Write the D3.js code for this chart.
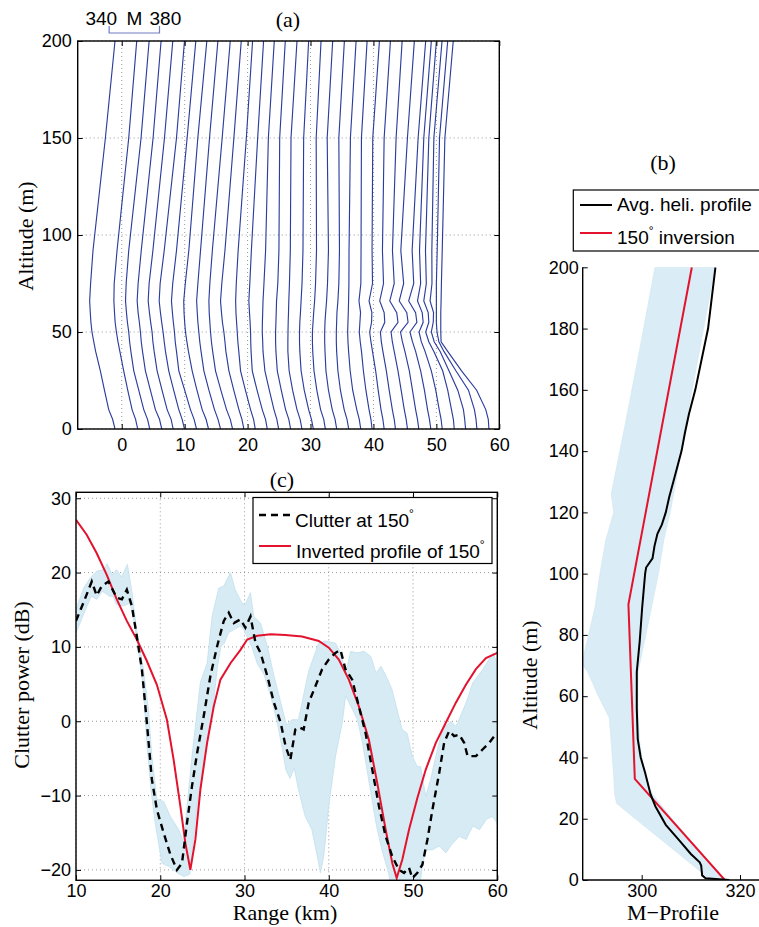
<!DOCTYPE html>
<html>
<head>
<meta charset="utf-8">
<script src="https://cdn.jsdelivr.net/npm/d3@7"></script>
<style>
  body { margin: 0; background: #fff; }
  svg { display: block; }
  .tick text { font-family: "Liberation Sans", Arial, sans-serif; font-size: 18px; fill: #000; }
  .tick line { stroke: #000; }
  .domain { display: none; }
  .lab { font-family: "Liberation Serif", "Times New Roman", serif; font-size: 22px; fill: #000; }
  .leg { font-family: "Liberation Sans", Arial, sans-serif; font-size: 19px; fill: #000; }
</style>
</head>
<body>
<div id="chart"></div>
<script>
// ---------- panel (a): M-profiles shifted by range ----------
var profileAlt = [0, 5, 10, 20, 30, 40, 45, 50, 55, 60, 66, 75, 92, 150, 200];
var profileX = [
  [-1.07, -1.45, -2.07, -2.75, -3.40, -4.15, -4.45, -4.73, -4.90, -5.00, -5.10, -4.95, -4.57, -2.60, -1.07],
  [2.54, 2.2, 1.64, 0.95, 0.31, -0.3, -0.6, -0.85, -1.05, -1.15, -1.25, -1.2, -0.75, 1.11, 2.38],
  [4.45, 4.1, 3.50, 2.7, 1.91, 1.45, 1.25, 1.11, 0.9, 0.75, 0.6, 0.7, 1.11, 3.07, 4.35],
  [6.36, 6.0, 5.35, 4.55, 3.76, 3.3, 3.1, 2.97, 2.8, 2.6, 2.45, 2.6, 3.1, 4.98, 6.25],
  [8.17, 7.85, 7.21, 6.4, 5.62, 5.15, 4.95, 4.82, 4.6, 4.4, 4.2, 4.35, 4.95, 6.79, 8.11],
  [9.97, 9.6, 9.07, 8.25, 7.47, 6.95, 6.75, 6.57, 6.35, 6.15, 5.95, 6.1, 6.75, 8.70, 9.97],
  [11.88, 11.5, 10.92, 10.0, 9.07, 8.7, 8.5, 8.38, 8.2, 8.05, 7.9, 8.1, 8.7, 10.39, 11.77],
  [13.79, 13.4, 12.78, 11.95, 11.19, 10.6, 10.35, 10.13, 10.0, 9.9, 9.85, 10.1, 10.66, 12.09, 13.52],
  [15.70, 15.3, 14.74, 13.85, 13.05, 12.6, 12.4, 12.25, 12.1, 12.0, 11.9, 12.1, 12.52, 13.95, 15.28],
  [17.61, 17.25, 16.65, 15.75, 14.90, 14.45, 14.25, 14.11, 14.0, 13.9, 13.85, 14.0, 14.4, 15.96, 17.24],
  [19.41, 19.1, 18.62, 17.8, 17.03, 16.55, 16.4, 16.23, 16.0, 15.85, 15.7, 15.9, 16.4, 17.82, 18.99],
  [21.22, 20.95, 20.47, 19.65, 18.88, 18.6, 18.45, 18.35, 18.25, 18.15, 18.1, 18.2, 18.5, 19.8, 20.79],
  [23.13, 22.85, 22.33, 21.5, 20.74, 20.55, 20.5, 20.47, 20.4, 20.3, 20.2, 20.35, 20.6, 21.6, 22.54],
  [24.93, 24.65, 24.19, 23.45, 22.75, 22.45, 22.4, 22.33, 22.35, 22.4, 22.45, 22.6, 22.86, 23.3, 24.24],
  [26.84, 26.55, 26.04, 25.35, 24.72, 24.5, 24.45, 24.45, 24.5, 24.55, 24.6, 24.8, 24.98, 25.1, 25.99],
  [28.64, 28.35, 27.85, 27.15, 26.6, 26.4, 26.4, 26.42, 26.45, 26.5, 26.55, 26.65, 26.79, 26.9, 27.85],
  [30.45, 30.15, 29.7, 29.0, 28.5, 28.3, 28.25, 28.25, 28.3, 28.4, 28.5, 28.65, 28.80, 28.91, 29.70],
  [32.36, 32.1, 31.6, 31.0, 30.55, 30.35, 30.3, 30.3, 30.4, 30.5, 30.65, 30.8, 30.95, 30.9, 31.67],
  [34.16, 33.9, 33.45, 32.85, 32.45, 32.3, 32.25, 32.25, 32.3, 32.4, 32.55, 32.7, 32.85, 32.65, 33.52],
  [36.07, 35.8, 35.35, 34.75, 34.35, 34.15, 34.1, 34.1, 34.15, 34.2, 34.35, 34.5, 34.6, 34.5, 35.38],
  [37.98, 37.75, 37.35, 36.7, 36.3, 36.05, 35.95, 35.9, 35.95, 36.0, 36.05, 36.1, 36.12, 36.34, 37.24],
  [39.78, 39.6, 39.3, 38.8, 38.4, 38.1, 37.9, 37.75, 37.85, 37.95, 37.7, 38.0, 38.03, 38.09, 38.99],
  [41.70, 41.5, 41.2, 40.75, 40.35, 39.85, 39.6, 39.4, 39.7, 39.75, 39.3, 39.85, 39.78, 39.89, 40.95],
  [43.5, 43.3, 43.0, 42.5, 42.05, 41.5, 41.25, 41.1, 41.8, 41.7, 41.0, 41.6, 41.43, 41.7, 42.70],
  [45.41, 45.2, 44.9, 44.4, 43.9, 43.3, 43.0, 42.8, 43.9, 43.7, 42.6, 43.3, 43.02, 43.6, 44.56],
  [47.21, 47.0, 46.7, 46.2, 45.7, 45.0, 44.6, 44.3, 45.5, 45.3, 44.1, 44.8, 44.35, 45.4, 46.5],
  [49.12, 48.9, 48.6, 48.1, 47.5, 46.7, 46.2, 45.8, 46.9, 46.7, 45.6, 46.4, 46.15, 47.1, 48.3],
  [50.93, 50.75, 50.45, 49.9, 49.2, 48.2, 47.6, 47.25, 47.9, 47.75, 47.0, 47.5, 47.32, 48.0, 49.2],
  [52.84, 52.7, 52.4, 51.8, 51.0, 49.6, 48.8, 48.3, 48.8, 48.7, 48.0, 48.4, 48.27, 48.8, 50.0],
  [54.64, 54.5, 54.3, 53.4, 52.0, 50.6, 49.65, 49.2, 49.5, 49.55, 49.0, 49.3, 49.28, 49.6, 50.9],
  [56.44, 56.3, 56.05, 55.1, 53.1, 51.2, 50.4, 50.1, 50.0, 50.0, 50.0, 50.0, 50.13, 50.5, 51.8],
  [58.35, 58.25, 57.85, 56.4, 54.0, 51.8, 50.75, 50.7, 50.7, 50.7, 50.75, 50.8, 50.93, 51.35, 52.68]
];
var mLegend = [340, 380];
var ticksAx = [0, 10, 20, 30, 40, 50, 60];
var ticksAy = [0, 50, 100, 150, 200];

// ---------- panel (b): M-profile comparison ----------
var heliAlt = [0, 0.6, 1.5, 4.7, 5.8, 8.5, 13, 18, 24, 28, 35, 40, 46, 56, 68, 78, 89, 100, 102, 105, 109, 113, 116, 120, 125, 131, 140, 146, 152, 160, 180, 200];
var heliM = [317.8, 313.0, 312.3, 312.1, 311.8, 310.0, 307.6, 304.9, 302.8, 301.8, 300.7, 299.8, 299.2, 299.0, 299.0, 299.6, 300.1, 300.7, 300.9, 302.2, 302.6, 303.2, 304.1, 304.9, 305.6, 306.6, 308.1, 308.8, 309.6, 310.9, 313.5, 315.0];
var invAlt = [0, 33, 90, 200];
var invM = [316.9, 298.6, 297.3, 310.2];
var spreadAlt = [0, 2, 10, 20, 25, 28, 34, 45, 53, 60, 68, 70.5, 89, 100, 111, 120, 126, 150, 175, 200];
var spreadLo = [314, 312.5, 306.4, 298.7, 294.9, 294.5, 294.3, 293.8, 293.4, 291.2, 289.0, 287.8, 290.5, 291.5, 292.7, 294.3, 293.8, 296.8, 299.8, 302.7];
var spreadHi = [316.5, 315.7, 311.5, 306.2, 303.7, 302.2, 300.6, 299.6, 299.3, 299.2, 299.3, 299.6, 302.0, 303.4, 304.5, 305.8, 306.5, 309.1, 312.0, 314.9];
var ticksBx = [300, 320];
var ticksBy = [0, 20, 40, 60, 80, 100, 120, 140, 160, 180, 200];

// ---------- panel (c): clutter power vs range ----------
var clutterRange = [10, 10.87, 11.87, 12.46, 13.06, 13.85, 14.84, 15.44, 16.03, 16.63, 17.22, 17.82, 18.41, 19.0, 19.6, 20.4, 21.19, 21.98, 22.58, 23.17, 23.77, 24.37, 25.16, 25.95, 26.75, 27.54, 28.13, 28.73, 29.52, 30.1, 30.71, 31.31, 31.9, 32.7, 33.49, 34.29, 34.88, 35.44, 36.03, 36.43, 37.02, 37.62, 38.41, 39.21, 40.0, 40.79, 41.39, 41.98, 42.78, 43.57, 44.37, 45.16, 45.95, 46.75, 47.54, 48.33, 48.93, 49.52, 49.92, 50.52, 51.11, 51.71, 52.3, 53.1, 53.69, 54.29, 54.88, 55.48, 56.07, 56.47, 57.46, 58.25, 59.05, 59.64, 60];
var clutterDb = [13.5, 15.9, 18.8, 16.9, 18.2, 18.8, 16.6, 16.4, 17.7, 15.5, 11.4, 7.0, -0.2, -7.8, -11.9, -15.0, -17.9, -20.0, -19.1, -13.7, -8.7, -4.3, 0.7, 6.1, 10.1, 13.5, 14.6, 13.2, 13.7, 12.6, 14.1, 10.5, 9.2, 6.1, 2.5, -0.2, -3.4, -5.2, -1.1, -0.8, -1.1, 2.5, 4.7, 7.0, 8.3, 9.2, 9.6, 7.0, 5.6, 2.0, -1.6, -6.5, -11.4, -15.5, -18.2, -20.0, -20.4, -19.7, -21.1, -20.4, -19.3, -15.9, -11.9, -7.0, -2.9, -1.3, -2.0, -1.8, -2.9, -4.7, -4.7, -3.8, -2.9, -2.0, -1.8];
var invertedRange = [10, 11.27, 12.46, 13.65, 14.84, 16.03, 17.22, 18.41, 19.6, 20.79, 21.59, 22.38, 22.98, 23.57, 24.17, 24.76, 25.56, 26.35, 27.14, 28.33, 29.52, 30.32, 31.51, 33.1, 34.84, 36.83, 38.81, 40.0, 41.19, 42.38, 43.57, 44.76, 45.75, 46.75, 47.54, 48.06, 48.73, 49.52, 50.52, 51.51, 52.7, 53.89, 55.08, 56.27, 57.46, 58.65, 60];
var invertedDb = [27.1, 25.1, 22.6, 19.7, 16.4, 13.5, 11.0, 8.1, 4.9, 0.2, -5.2, -11.4, -16.4, -20.0, -15.9, -9.2, -2.9, 2.0, 5.6, 7.8, 9.6, 11.0, 11.5, 11.7, 11.6, 11.4, 10.8, 9.9, 8.3, 5.6, 2.0, -2.5, -8.3, -14.6, -19.1, -21.1, -18.6, -14.6, -10.3, -6.5, -2.9, -0.2, 2.5, 4.9, 7.0, 8.5, 9.2];
var bandUpRange = [10, 10.9, 11.7, 12.5, 13.3, 13.7, 14.3, 14.8, 15.4, 16.1, 16.6, 17.2, 18.0, 18.6, 19.0, 19.6, 20.4, 21.2, 22.2, 22.8, 22.98, 23.77, 24.76, 25.56, 26.15, 26.94, 27.54, 28.33, 28.9, 29.7, 30.1, 30.7, 31.1, 31.9, 32.7, 33.5, 33.9, 34.7, 35.0, 35.6, 36.4, 37.6, 38.8, 39.6, 40.8, 41.4, 42.0, 42.6, 43.4, 44.2, 45.0, 45.6, 46.2, 46.8, 47.5, 48.1, 48.7, 49.3, 49.9, 50.5, 50.9, 51.5, 52.1, 52.7, 53.5, 54.5, 55.1, 56.3, 57.1, 58.3, 59.5, 60];
var bandUpDb = [15.0, 17.9, 19.3, 20.2, 20.4, 21.2, 19.7, 20.4, 19.4, 21.1, 17.7, 12.3, 7.0, 1.6, -4.7, -10.5, -10.8, -12.8, -14.6, -16.4, -13.7, -4.7, 5.2, 7.8, 14.1, 17.9, 18.2, 20.0, 17.7, 15.9, 15.7, 17.3, 14.1, 13.2, 10.1, 6.1, 4.3, 0.7, -0.5, 0.2, 0.2, 6.7, 10.5, 10.8, 10.5, 9.2, 6.5, 9.4, 9.2, 9.4, 8.7, 6.5, 7.4, 6.1, 4.3, 1.6, -1.1, -1.6, -4.7, -6.1, -6.1, -10.1, -7.8, -4.7, -1.1, 0, -0.7, 2.5, 5.2, 7.0, 9.2, 7.8];
var bandLoRange = [10, 10.8, 11.8, 12.5, 13.1, 14.0, 14.4, 14.8, 15.6, 16.4, 16.8, 17.4, 18.0, 18.4, 18.9, 19.4, 20.2, 21.0, 22.0, 22.8, 23.5, 23.8, 24.4, 25.2, 26.0, 26.4, 26.8, 27.2, 27.6, 28.1, 28.7, 29.5, 29.9, 30.3, 30.9, 31.5, 32.3, 33.1, 33.9, 34.5, 34.9, 35.4, 35.9, 36.4, 37.2, 38.0, 38.8, 39.0, 39.4, 40.0, 40.8, 41.6, 42.0, 42.8, 43.4, 44.0, 44.8, 45.6, 46.3, 47.1, 47.5, 50.7, 51.1, 51.5, 52.3, 53.1, 53.9, 54.7, 55.5, 56.3, 57.1, 57.9, 58.7, 59.4, 60];
var bandLoDb = [11.9, 14.1, 16.8, 16.4, 17.5, 16.8, 16.8, 15.7, 15.5, 15.9, 14.1, 9.6, 4.3, -2.9, -9.2, -13.7, -19.1, -19.5, -20.4, -20.9, -20.6, -17.3, -11.0, -4.7, -0.2, 3.4, 7.4, 10.1, 10.5, 11.9, 12.3, 12.8, 12.3, 11.4, 9.9, 7.8, 6.3, 3.4, -0.2, -3.8, -6.5, -7.7, -6.3, -9.2, -12.8, -14.6, -19.1, -20.4, -18.2, -11.4, -4.7, -0.2, 3.4, 1.6, 0.2, -2.9, -8.3, -13.7, -17.3, -20.4, -23, -23, -19.5, -17.3, -17.3, -16.8, -17.7, -16.4, -15.5, -15.9, -14.1, -14.6, -13.2, -12.8, -13.7];
var ticksCx = [10, 20, 30, 40, 50, 60];
var ticksCy = [-20, -10, 0, 10, 20, 30];

var W = 759, H = 927;
var blue = "#2d3d9d", red = "#e3132e";

var svg = d3.select("#chart").append("svg").attr("width", W).attr("height", H);
var defs = svg.append("defs");

function clip(id, x0, y0, x1, y1) {
  defs.append("clipPath").attr("id", id).append("rect")
      .attr("x", x0).attr("y", y0).attr("width", x1 - x0).attr("height", y1 - y0);
  return "url(#" + id + ")";
}

function grid(g, x, y, xt, yt) {
  var xr = x.range(), yr = y.range();
  g.selectAll(".gx").data(xt).enter().append("line")
      .attr("x1", function(d){ return x(d); }).attr("x2", function(d){ return x(d); })
      .attr("y1", yr[0]).attr("y2", yr[1])
      .attr("stroke", "#9a9a9a").attr("stroke-width", 1).attr("stroke-dasharray", "1,3");
  g.selectAll(".gy").data(yt).enter().append("line")
      .attr("y1", function(d){ return y(d); }).attr("y2", function(d){ return y(d); })
      .attr("x1", xr[0]).attr("x2", xr[1])
      .attr("stroke", "#9a9a9a").attr("stroke-width", 1).attr("stroke-dasharray", "1,3");
}

// degree sign as a raised small circle, like the MATLAB ^\circ
function degText(g, x, y, pre, post) {
  var t = g.append("text").attr("class", "leg").attr("x", x).attr("y", y);
  t.append("tspan").text(pre);
  t.append("tspan").text("°").attr("font-size", 12).attr("dy", -9);
  if (post) t.append("tspan").text(post).attr("font-size", 19).attr("dy", 9);
}

// ================= panel (a) =================
var xa = d3.scaleLinear().domain([-7, 60]).range([77.7, 499.3]);
var ya = d3.scaleLinear().domain([0, 200]).range([429, 41]);
var gA = svg.append("g");
grid(gA, xa, ya, ticksAx, ticksAy);

var lineA = d3.line()
    .x(function(d){ return xa(d[0]); })
    .y(function(d){ return ya(d[1]); });

gA.append("g").attr("clip-path", clip("clipA", 77.7, 41, 499.3, 429))
  .selectAll("path").data(profileX).enter().append("path")
    .attr("d", function(p){ return lineA(p.map(function(v, i){ return [v, profileAlt[i]]; })); })
    .attr("fill", "none").attr("stroke", blue).attr("stroke-width", 1.15);

gA.append("g").attr("transform", "translate(0," + ya(0) + ")")
  .call(d3.axisBottom(xa).tickValues(ticksAx).tickSize(-5).tickSizeOuter(0).tickPadding(9));
gA.append("g").attr("transform", "translate(0," + ya(200) + ")")
  .call(d3.axisTop(xa).tickValues(ticksAx).tickSize(-5).tickSizeOuter(0).tickFormat(""));
gA.append("g").attr("transform", "translate(" + xa(-7) + ",0)")
  .call(d3.axisLeft(ya).tickValues(ticksAy).tickSize(-5).tickSizeOuter(0).tickPadding(6));
gA.append("g").attr("transform", "translate(" + xa(60) + ",0)")
  .call(d3.axisRight(ya).tickValues(ticksAy).tickSize(-5).tickSizeOuter(0).tickFormat(""));
gA.append("rect").attr("x", 77.7).attr("y", 41).attr("width", 499.3 - 77.7).attr("height", 429 - 41)
  .attr("fill", "none").attr("stroke", "#000").attr("stroke-width", 1.4);

// M scale bar: 40 M units drawn in range-axis units
var mToKm = d3.scaleLinear().domain(mLegend).range([-2, 6]);
gA.append("path")
  .attr("d", "M" + xa(mToKm(340)) + ",26V33H" + xa(mToKm(380)) + "V26")
  .attr("fill", "none").attr("stroke", "#6f7cc4").attr("stroke-width", 1.2);
gA.append("text").attr("class", "leg").attr("x", xa(mToKm(340)) + 8).attr("y", 25)
  .attr("text-anchor", "end").attr("font-size", 18).text(mLegend[0]);
gA.append("text").attr("class", "leg").attr("x", xa(mToKm(360))).attr("y", 25)
  .attr("text-anchor", "middle").attr("font-size", 18).text("M");
gA.append("text").attr("class", "leg").attr("x", xa(mToKm(380)) - 10).attr("y", 25)
  .attr("text-anchor", "start").attr("font-size", 18).text(mLegend[1]);

gA.append("text").attr("class", "lab").attr("x", 288).attr("y", 27).attr("text-anchor", "middle").text("(a)");
gA.append("text").attr("class", "lab").attr("transform", "translate(33,236) rotate(-90)")
  .attr("text-anchor", "middle").text("Altitude (m)");

// ================= panel (b) =================
var xb = d3.scaleLinear().domain([288, 325]).range([582.7, 764.6]);
var yb = d3.scaleLinear().domain([0, 200]).range([880, 267.3]);
var gB = svg.append("g");
var clipB = clip("clipB", 582.7, 267.3, 770, 880);

var spread = spreadAlt.map(function(a, i){ return {a: a, lo: spreadLo[i], hi: spreadHi[i]}; });
gB.append("path").attr("clip-path", clipB)
  .attr("d", d3.area()
      .y(function(d){ return yb(d.a); })
      .x0(function(d){ return xb(d.lo); })
      .x1(function(d){ return xb(d.hi); })(spread))
  .attr("fill", "#daecf5").attr("stroke", "#cfe6f1").attr("stroke-width", 0.6);

var lineB = d3.line()
    .x(function(d){ return xb(d[0]); })
    .y(function(d){ return yb(d[1]); });
gB.append("path").attr("clip-path", clipB)
  .attr("d", lineB(invM.map(function(m, i){ return [m, invAlt[i]]; })))
  .attr("fill", "none").attr("stroke", red).attr("stroke-width", 2);
gB.append("path").attr("clip-path", clipB)
  .attr("d", lineB(heliM.map(function(m, i){ return [m, heliAlt[i]]; })))
  .attr("fill", "none").attr("stroke", "#000").attr("stroke-width", 2);

gB.append("g").attr("transform", "translate(0," + yb(0) + ")")
  .call(d3.axisBottom(xb).tickValues(ticksBx).tickSize(-5).tickSizeOuter(0).tickPadding(4));
gB.append("g").attr("transform", "translate(" + xb(288) + ",0)")
  .call(d3.axisLeft(yb).tickValues(ticksBy).tickSize(-5).tickSizeOuter(0).tickPadding(4));
gB.append("line").attr("x1", xb(288)).attr("x2", W).attr("y1", yb(0)).attr("y2", yb(0))
  .attr("stroke", "#000").attr("stroke-width", 1.4);
gB.append("line").attr("x1", xb(288)).attr("x2", xb(288)).attr("y1", yb(0)).attr("y2", yb(200))
  .attr("stroke", "#000").attr("stroke-width", 1.4);

gB.append("text").attr("class", "lab").attr("x", 663).attr("y", 170).attr("text-anchor", "middle").text("(b)");
gB.append("text").attr("class", "lab").attr("transform", "translate(537,675) rotate(-90)")
  .attr("text-anchor", "middle").text("Altitude (m)");
gB.append("text").attr("class", "lab").attr("x", 673).attr("y", 920).attr("font-size", 21)
  .attr("text-anchor", "middle").text("M\u2212Profile");

// legend (b)
gB.append("rect").attr("x", 573.3).attr("y", 190).attr("width", 200).attr("height", 61)
  .attr("fill", "#fff").attr("stroke", "#000").attr("stroke-width", 1.2);
gB.append("line").attr("x1", 580).attr("x2", 612).attr("y1", 205).attr("y2", 205)
  .attr("stroke", "#000").attr("stroke-width", 2);
gB.append("text").attr("class", "leg").attr("x", 617).attr("y", 211).text("Avg. heli. profile");
gB.append("line").attr("x1", 580).attr("x2", 612).attr("y1", 233).attr("y2", 233)
  .attr("stroke", red).attr("stroke-width", 2);
degText(gB, 617, 244, "150", " inversion");

// ================= panel (c) =================
var xc = d3.scaleLinear().domain([10, 60]).range([76, 497.3]);
var yc = d3.scaleLinear().domain([-21.4, 30.8]).range([880.3, 492.3]);
var gC = svg.append("g");
grid(gC, xc, yc, ticksCx, ticksCy);
var clipC = clip("clipC", 76, 492.3, 497.3, 880.3);

var lineC = d3.line()
    .x(function(d){ return xc(d[0]); })
    .y(function(d){ return yc(d[1]); });

var bandPoly = bandUpRange.map(function(r, i){ return [r, bandUpDb[i]]; })
  .concat(bandLoRange.map(function(r, i){ return [r, bandLoDb[i]]; }).reverse());
gC.append("path").attr("clip-path", clipC)
  .attr("d", lineC(bandPoly) + "Z")
  .attr("fill", "#d7ebf4").attr("stroke", "#c2e0ee").attr("stroke-width", 0.8);

gC.append("path").attr("clip-path", clipC)
  .attr("d", lineC(invertedRange.map(function(r, i){ return [r, invertedDb[i]]; })))
  .attr("fill", "none").attr("stroke", red).attr("stroke-width", 2);
gC.append("path").attr("clip-path", clipC)
  .attr("d", lineC(clutterRange.map(function(r, i){ return [r, clutterDb[i]]; })))
  .attr("fill", "none").attr("stroke", "#000").attr("stroke-width", 2.4)
  .attr("stroke-dasharray", "7,5");

gC.append("g").attr("transform", "translate(0," + yc(-21.4) + ")")
  .call(d3.axisBottom(xc).tickValues(ticksCx).tickSize(-5).tickSizeOuter(0).tickPadding(4));
gC.append("g").attr("transform", "translate(0," + yc(30.8) + ")")
  .call(d3.axisTop(xc).tickValues(ticksCx).tickSize(-5).tickSizeOuter(0).tickFormat(""));
gC.append("g").attr("transform", "translate(" + xc(10) + ",0)")
  .call(d3.axisLeft(yc).tickValues(ticksCy).tickSize(-5).tickSizeOuter(0).tickPadding(5));
gC.append("g").attr("transform", "translate(" + xc(60) + ",0)")
  .call(d3.axisRight(yc).tickValues(ticksCy).tickSize(-5).tickSizeOuter(0).tickFormat(""));
gC.append("rect").attr("x", 76).attr("y", 492.3).attr("width", 497.3 - 76).attr("height", 880.3 - 492.3)
  .attr("fill", "none").attr("stroke", "#000").attr("stroke-width", 1.4);

gC.append("text").attr("class", "lab").attr("x", 282).attr("y", 487).attr("text-anchor", "middle").text("(c)");
gC.append("text").attr("class", "lab").attr("x", 285).attr("y", 920).attr("font-size", 21)
  .attr("text-anchor", "middle").text("Range (km)");
gC.append("text").attr("class", "lab").attr("transform", "translate(29,685) rotate(-90)")
  .attr("text-anchor", "middle").text("Clutter power (dB)");

// legend (c)
gC.append("rect").attr("x", 253).attr("y", 497.5).attr("width", 239).attr("height", 66)
  .attr("fill", "#fff").attr("stroke", "#000").attr("stroke-width", 1.2);
gC.append("line").attr("x1", 259).attr("x2", 291).attr("y1", 515).attr("y2", 515)
  .attr("stroke", "#000").attr("stroke-width", 2.4).attr("stroke-dasharray", "7,5");
degText(gC, 295, 526.5, "Clutter at 150");
gC.append("line").attr("x1", 259).attr("x2", 291).attr("y1", 546).attr("y2", 546)
  .attr("stroke", red).attr("stroke-width", 2);
degText(gC, 296, 558, "Inverted profile of 150");
</script>
</body>
</html>
